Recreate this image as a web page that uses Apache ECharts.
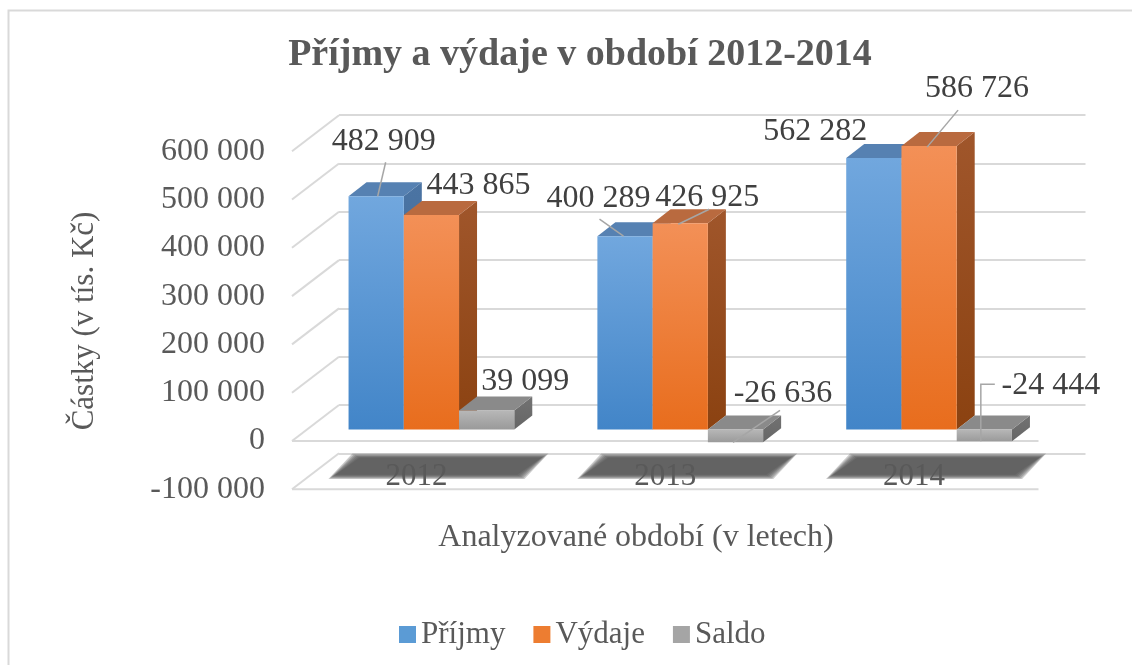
<!DOCTYPE html>
<html>
<head>
<meta charset="utf-8">
<script src="https://cdn.jsdelivr.net/npm/echarts@6/dist/echarts.min.js"></script>
<style>
html, body { margin: 0; background: #fff; }
#chart { width: 1132px; height: 665px; }
</style>
</head>
<body>
<div id="chart"></div>
<script>
// data
var years = ['2012', '2013', '2014'];
var prijmy = [482909, 400289, 562282];
var vydaje = [443865, 426925, 586726];
var saldo = [39099, -26636, -24444];
var seriesNames = ['Příjmy', 'Výdaje', 'Saldo'];
var yTicks = [-100000, 0, 100000, 200000, 300000, 400000, 500000, 600000];

// layout of the pseudo 3D box
var depth = [18, -14];      // bar depth
var floorDepth = [47, -36]; // front -> back wall
var FONT = '"Liberation Serif", "Times New Roman", serif';

// colours per series: front gradient, top face, side gradient
var faces = [
    { front: ['#71a7de', '#4285c8'], top: '#5681b2', side: ['#4b74a3', '#3d6796'], legend: '#5b9bd5' },
    { front: ['#f39057', '#e86d1d'], top: '#b96a3f', side: ['#a0562b', '#8b4211'], legend: '#ed7d31' },
    { front: ['#b7b7b7', '#9a9a9a'], top: '#8a8a8a', side: ['#727272', '#666666'], legend: '#a5a5a5' }
];

// where the value labels sit (relative to bar value point), leader lines
var labelLayout = [
    [{ dx: 7.5, dy: -54.5, line: [[1.5, 0], [9.5, -34]] },
     { dx: -26.5, dy: -38, line: [[-1.5, 0], [-25.5, -17]] },
     { dx: -58.5, dy: -26 }],
    [{ dx: 47, dy: -30 },
     { dx: 27, dy: -26, line: [[-2, 1], [29, -14]] },
     { dx: 48, dy: -58, line: [[-2, 1], [29, -36]] }],
    [{ dx: 38.5, dy: -28.6 },
     { dx: 47.5, dy: -49, line: [[-2.5, 0], [44.5, -32]] },
     { dx: 66.5, dy: -56, line: [[-3.5, 0], [-3.5, -57], [10.5, -57]] }]
];

function fmt(v) {
    var s = String(Math.abs(v)).replace(/\B(?=(\d{3})+(?!\d))/g, ' ');
    return (v < 0 ? '-' : '') + s;
}

function vgrad(c) {
    return { type: 'linear', x: 0, y: 0, x2: 0, y2: 1, colorStops: [{ offset: 0, color: c[0] }, { offset: 1, color: c[1] }] };
}

function barItem(s) {
    return function(params, api) {
        var i = api.value(0), v = api.value(1);
        var base = api.coord([i, 0]);
        var tip = api.coord([i, v]);
        var band = api.size([1, 0])[0];
        var w = band * 0.222;
        var x0 = base[0] - 1.5 * w + s * w, x1 = x0 + w;
        var yHi = Math.min(base[1], tip[1]), yLo = Math.max(base[1], tip[1]);
        var dx = depth[0], dy = depth[1];
        var f = faces[s];
        var children = [{
            type: 'polygon',
            shape: { points: [[x1, yHi], [x1 + dx, yHi + dy], [x1 + dx, yLo + dy], [x1, yLo]] },
            style: { fill: vgrad(f.side) }
        }, {
            type: 'polygon',
            shape: { points: [[x0, yHi], [x1, yHi], [x1 + dx, yHi + dy], [x0 + dx, yHi + dy]] },
            style: { fill: f.top }
        }, {
            type: 'rect',
            shape: { x: x0, y: yHi, width: w, height: yLo - yHi },
            style: { fill: vgrad(f.front) }
        }];
        var L = labelLayout[s][i];
        var xc = (x0 + x1) / 2, yv = tip[1];
        if (L.line) {
            children.push({
                type: 'polyline',
                shape: { points: L.line.map(function(p) { return [xc + p[0], yv + p[1]]; }) },
                style: { stroke: '#a6a6a6', lineWidth: 1.5, fill: null }
            });
        }
        children.push({
            type: 'text',
            x: xc + L.dx,
            y: yv + L.dy,
            style: { text: fmt(v), font: '32px ' + FONT, fill: '#404040', align: 'center', verticalAlign: 'middle' }
        });
        return { type: 'group', children: children };
    };
}

var valueAxis = { type: 'value', min: -100000, max: 600000, interval: 100000 };

var option = {
    animation: false,
    backgroundColor: '#fff',
    title: {
        text: 'Příjmy a výdaje v období 2012-2014',
        left: 575,
        top: 31,
        textAlign: 'center',
        textStyle: { fontFamily: FONT, fontSize: 38, fontWeight: 'bold', color: '#595959' }
    },
    legend: {
        data: seriesNames,
        left: 394,
        top: 614,
        icon: 'rect',
        itemWidth: 17,
        itemHeight: 17,
        itemGap: 28,
        textStyle: { fontFamily: FONT, fontSize: 31, color: '#595959' }
    },
    grid: [
        { left: 307, top: 139.7, width: 746.5, height: 338.1 },  // bar plane
        { left: 339, top: 115.2, width: 746.5, height: 338.1 },  // back wall
        { left: 292, top: 151.2, width: 746.5, height: 338.1 }   // front edge
    ],
    xAxis: [
        { gridIndex: 0, type: 'category', data: years, show: false },
        { gridIndex: 1, type: 'category', data: years, show: false },
        {
            gridIndex: 2, type: 'category', data: years, z: 10,
            axisLine: { show: false }, axisTick: { show: false },
            axisLabel: { margin: -28, fontFamily: FONT, fontSize: 31, color: '#595959' }
        }
    ],
    yAxis: [
        Object.assign({ gridIndex: 0, show: false }, valueAxis),
        Object.assign({
            gridIndex: 1,
            axisLine: { show: false }, axisTick: { show: false }, axisLabel: { show: false },
            splitLine: { lineStyle: { color: '#d9d9d9', width: 2 } }
        }, valueAxis),
        Object.assign({
            gridIndex: 2,
            axisLine: { show: false }, axisTick: { show: false }, splitLine: { show: false },
            axisLabel: { margin: 27, fontFamily: FONT, fontSize: 32, color: '#595959', formatter: fmt }
        }, valueAxis)
    ],
    graphic: [{
        type: 'rect', z: -10,
        shape: { x: 8.5, y: 10.5, width: 1140, height: 700 },
        style: { fill: null, stroke: '#d9d9d9', lineWidth: 2 }
    }, {
        type: 'text', x: 85, y: 321, rotation: Math.PI / 2,
        style: { text: 'Částky (v tís. Kč)', font: '31px ' + FONT, fill: '#595959', align: 'center', verticalAlign: 'middle' }
    }, {
        type: 'text', x: 636, y: 538,
        style: { text: 'Analyzované období (v letech)', font: '32px ' + FONT, fill: '#595959', align: 'center', verticalAlign: 'middle' }
    }],
    series: [{
        // side wall diagonals + floor front edges
        type: 'custom', xAxisIndex: 1, yAxisIndex: 1, z: 1, silent: true,
        data: yTicks.map(function(t) { return [0, t]; }),
        renderItem: function(params, api) {
            var cs = params.coordSys;
            var y = api.coord([0, api.value(1)])[1];
            var fx = cs.x - floorDepth[0], fy = y - floorDepth[1];
            var st = { stroke: '#d9d9d9', lineWidth: 2 };
            var ch = [{ type: 'line', shape: { x1: fx, y1: fy, x2: cs.x, y2: y }, style: st }];
            if (api.value(1) <= 0) {
                ch.push({ type: 'line', shape: { x1: fx, y1: fy, x2: fx + cs.width, y2: fy }, style: st });
            }
            return { type: 'group', children: ch };
        }
    }, {
        // soft shadows on the floor under the category labels (layered for blur)
        type: 'custom', xAxisIndex: 0, yAxisIndex: 0, z: 1, silent: true,
        data: years.map(function(y, i) { return [i, -100000]; }),
        renderItem: function(params, api) {
            var c = api.coord([api.value(0), api.value(1)]);
            var ch = [];
            for (var k = 5; k >= 0; k--) {
                var e = k * 1.4;
                ch.push({
                    type: 'polygon',
                    shape: { points: [
                        [c[0] - 96 - e, c[1] - 3 + e * 0.6], [c[0] + 86 + e, c[1] - 3 + e * 0.6],
                        [c[0] + 110 + e, c[1] - 20 - e * 0.6], [c[0] - 72 - e, c[1] - 20 - e * 0.6]] },
                    style: { fill: 'rgba(78,78,78,0.3)' }
                });
            }
            return { type: 'group', children: ch };
        }
    }].concat([prijmy, vydaje, saldo].map(function(arr, s) {
        return {
            name: seriesNames[s],
            type: 'custom',
            xAxisIndex: 0, yAxisIndex: 0,
            z: 3 + s,
            itemStyle: { color: faces[s].legend },
            data: arr.map(function(v, i) { return [i, v]; }),
            renderItem: barItem(s)
        };
    }))
};

var myChart = echarts.init(document.getElementById('chart'));
myChart.setOption(option);
</script>
</body>
</html>
